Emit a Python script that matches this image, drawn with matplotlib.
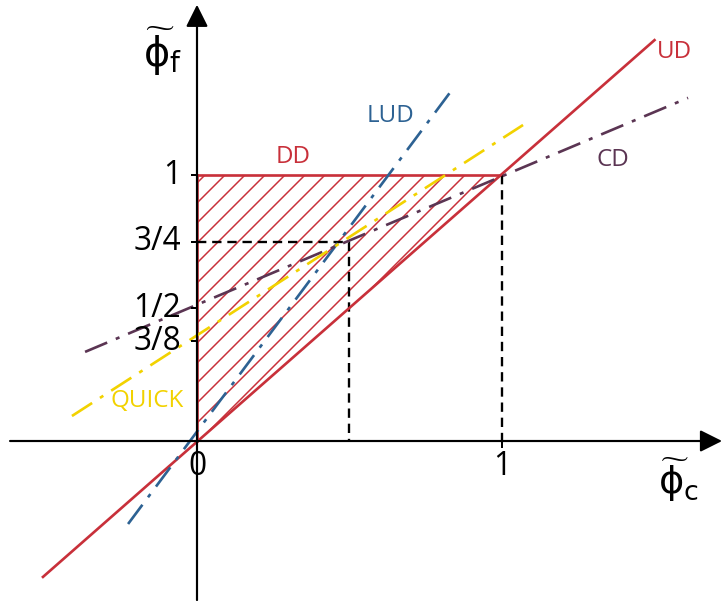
import matplotlib
matplotlib.use("Agg")
import matplotlib.pyplot as plt
from matplotlib.patches import Polygon

plt.rcParams['font.family'] = ['Open Sans', 'DejaVu Sans']
plt.rcParams['mathtext.fontset'] = 'custom'
plt.rcParams['mathtext.rm'] = 'DejaVu Sans'
plt.rcParams['mathtext.it'] = 'DejaVu Sans'
plt.rcParams['mathtext.fallback'] = 'stixsans'
plt.rcParams['hatch.linewidth'] = 0.9

# Normalised variable diagram: scheme characteristics (phi_c -> phi_f)
schemes = ["UD", "LUD", "CD", "QUICK"]
scheme_x = {"UD": [-0.505, 1.50], "LUD": [-0.226, 0.836],
            "CD": [-0.367, 1.61], "QUICK": [-0.41, 1.069]}
scheme_y = {"UD": [-0.511, 1.507], "LUD": [-0.312, 1.32],
            "CD": [0.335, 1.29], "QUICK": [0.094, 1.188]}
scheme_colors = {"UD": "#c8303a", "LUD": "#2d6293", "CD": "#5b3553", "QUICK": "#f2d200"}
scheme_styles = {"UD": "-", "LUD": (0, (9, 3.5, 1.5, 3.5)),
                 "CD": (0, (9, 3.5, 1.5, 3.5)), "QUICK": (0, (9, 3.5, 1.5, 3.5))}

# Label anchor positions
label_pos = {"UD": (1.567, 1.462), "LUD": (0.633, 1.222), "CD": (1.364, 1.056),
             "QUICK": (-0.164, 0.150), "DD": (0.315, 1.068)}

# Diffusion-dominated (bounded) region
dd_x = [0, 0, 1]
dd_y = [0, 1, 1]

y_ticks = [1, 0.75, 0.5, 0.375]
y_ticklabels = ["1", "3/4", "1/2", "3/8"]
x_ticks = [0, 1]
x_ticklabels = ["0", "1"]

DPI = 120
fig = plt.figure(figsize=(723 / DPI, 601 / DPI), dpi=DPI)
ax = fig.add_axes([0, 0, 1, 1])
ax.set_xlim(-0.6459, 1.7246)
ax.set_ylim(-0.6015, 1.6579)
ax.axis("off")

red = scheme_colors["UD"]
# hatched DD triangle
ax.add_patch(Polygon(list(zip(dd_x, dd_y)), closed=True, facecolor="none",
                     edgecolor=red, hatch="//", lw=0, zorder=1))
ax.plot(dd_x[:2], dd_y[:2], color=red, lw=1.6, zorder=2)
ax.plot(dd_x[1:], dd_y[1:], color=red, lw=1.6, zorder=2)

# guide lines
ax.plot([0, 0.5, 0.5], [0.75, 0.75, 0], color="black", lw=1.4,
        ls=(0, (4, 2.5)), zorder=3)
ax.plot([1, 1], [1, -0.022], color="black", lw=1.4, ls=(0, (4, 2.5)), zorder=3)

# axes with arrows
ax.annotate("", xy=(1.7215, 0), xytext=(-0.613, 0),
            arrowprops=dict(arrowstyle="-|>,head_length=0.4,head_width=0.2",
                            mutation_scale=28, lw=1.3, color="black",
                            shrinkA=0, shrinkB=0), zorder=5)
ax.annotate("", xy=(0, 1.640), xytext=(0, -0.598),
            arrowprops=dict(arrowstyle="-|>,head_length=0.4,head_width=0.2",
                            mutation_scale=28, lw=1.3, color="black",
                            shrinkA=0, shrinkB=0), zorder=5)

# scheme lines
for s in schemes:
    ax.plot(scheme_x[s], scheme_y[s], color=scheme_colors[s], lw=1.6,
            ls=scheme_styles[s], zorder=4)

for s in schemes:
    ax.text(*label_pos[s], s, color=scheme_colors[s], fontsize=14.5,
            ha="center", va="center", zorder=6)
ax.text(*label_pos["DD"], "DD", color=red, fontsize=14.5, ha="center",
        va="center", zorder=6)

# ticks
for v, t in zip(y_ticks, y_ticklabels):
    ax.plot([-0.016, 0], [v, v], color="black", lw=1.2, zorder=5)
    ax.text(-0.052, v, t, fontsize=19, ha="right", va="center", zorder=6)
for v, t in zip(x_ticks, x_ticklabels):
    ax.plot([v, v], [0, -0.022], color="black", lw=1.2, zorder=5)
    ax.text(v, -0.094, t, fontsize=19, ha="center", va="center", zorder=6)

# axis titles
def fig_xy(px, py):
    return px / 723, 1 - py / 601

fig.text(*fig_xy(143, 66), r"$\widetilde{\mathrm{ϕ}}_{\mathrm{f}}$", fontsize=24,
         ha="left", va="baseline")
fig.text(*fig_xy(658, 494), r"$\widetilde{\mathrm{ϕ}}_{\mathrm{c}}$", fontsize=23,
         ha="left", va="baseline")

fig.savefig("out.png", dpi=DPI)
